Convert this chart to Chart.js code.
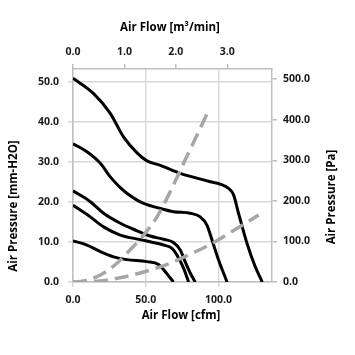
<!DOCTYPE html>
<html><head><meta charset="utf-8">
<script src="https://cdn.jsdelivr.net/npm/chart.js@4/dist/chart.umd.min.js"></script>
<style>html,body{margin:0;padding:0;background:#fff}#wrap{width:355px;height:355px;position:relative}</style>
</head><body><div id="wrap"><canvas id="c"></canvas></div>
<script>
// Fan performance curves (x: cfm, y: mm-H2O)
const fan1Flow = [0, 14, 25.6, 34.7, 44, 50.8, 60, 73.7, 87, 94.3, 101, 107, 110.3, 113.7, 119.5, 125, 130];
const fan1Pres = [51, 47.2, 42.2, 36.3, 32.3, 30.3, 29.2, 27.2, 25.8, 25.1, 24.5, 23.4, 21.8, 17.2, 9.7, 4, 0];
const fan2Flow = [0, 9.6, 18.8, 25.6, 32.5, 37, 44, 48.5, 60, 69, 80.6, 87.4, 92, 95.5, 100, 105.8];
const fan2Pres = [34.6, 32.6, 29.7, 26.3, 23.6, 22.2, 20.5, 19.7, 18.4, 17.6, 17.2, 16.3, 14.25, 10.5, 5.5, 0];
const fan3Flow = [0, 11.9, 21, 32.5, 41.6, 53, 62.2, 69, 73.7, 77, 80.6, 84];
const fan3Pres = [22.8, 20.1, 17.2, 14.7, 13.2, 11.5, 10.7, 9.9, 8, 5.1, 2.2, 0];
const fan4Flow = [0, 11.9, 21, 32.5, 46.2, 55, 62.2, 68, 71.4, 76, 79.4];
const fan4Pres = [19.2, 16.3, 13.8, 11.75, 10.6, 9.9, 9.25, 8.4, 6.75, 3.4, 0];
const fan5Flow = [0, 9.6, 18.8, 27.9, 37, 50.8, 58.8, 62, 65.5, 69];
const fan5Pres = [10.3, 9.25, 7.6, 6.3, 5.6, 5.1, 4.4, 3.2, 1.6, 0];
// System impedance curves
const sysAFlow = [0, 5, 18.8, 30.2, 37, 48.5, 57.7, 66.8, 77, 86.3, 93.8];
const sysAPres = [0, 0.1, 1.75, 4.7, 7.2, 11.75, 16.3, 22.6, 30.5, 37.6, 43.4];
const sysBFlow = [0, 14, 30, 48.5, 66.8, 78.3, 94.3, 112.6, 127.5];
const sysBPres = [0, 0.1, 0.9, 2.5, 4.7, 6.6, 9.4, 13.4, 16.75];
// Tick values
const cfmTicks = [0, 50, 100];
const m3Ticks = [0, 1, 2, 3];
const mmTicks = [0, 10, 20, 30, 40, 50];
const paTicks = [0, 100, 200, 300, 400, 500];

const pts = (xs, ys) => xs.map((x, i) => ({x: x, y: ys[i]}));
const BLACK = '#000000', GRAY = '#a6a6a6';
const fanDS = (xs, ys) => ({data: pts(xs, ys), borderColor: BLACK, borderWidth: 3, showLine: true, pointRadius: 0, cubicInterpolationMode: 'monotone', xAxisID: 'x', yAxisID: 'y'});
const sysDS = (xs, ys) => ({data: pts(xs, ys), borderColor: GRAY, borderWidth: 3.5, borderDash: [14, 7], showLine: true, pointRadius: 0, cubicInterpolationMode: 'monotone', xAxisID: 'x', yAxisID: 'y'});

const FAM = "'Open Sans', 'Noto Sans', sans-serif";
const tickFont = {family: FAM, weight: 'bold', size: 10.5};
const tickColor = '#1a1a1a';
const gridCol = '#d9d9d9', axisCol = '#bfbfbf';
const fmt = v => Number(v).toFixed(1);
const setTicks = arr => (s => { s.ticks = arr.map(v => ({value: v})); });

const titlePlugin = {
  id: 'titles',
  afterDraw(chart) {
    const ctx = chart.ctx;
    const font = 'bold 11.5px ' + FAM;
    ctx.save();
    ctx.fillStyle = '#000';
    ctx.font = font;
    ctx.textAlign = 'center';
    ctx.textBaseline = 'middle';
    ctx.fillText('Air Flow [m\u00B3/min]', 170, 28);
    ctx.fillText('Air Flow [cfm]', 181, 316);
    ctx.translate(14, 206); ctx.rotate(-Math.PI / 2);
    ctx.fillText('Air Pressure [mm-H2O]', 0, 0);
    ctx.restore();
    ctx.save();
    ctx.fillStyle = '#000';
    ctx.font = font;
    ctx.textAlign = 'center';
    ctx.textBaseline = 'middle';
    ctx.translate(332, 197); ctx.rotate(-Math.PI / 2);
    ctx.fillText('Air Pressure [Pa]', 0, 0);
    ctx.restore();
  }
};

new Chart(document.getElementById('c'), {
  type: 'scatter',
  data: {datasets: [
    sysDS(sysAFlow, sysAPres), sysDS(sysBFlow, sysBPres),
    fanDS(fan1Flow, fan1Pres), fanDS(fan2Flow, fan2Pres), fanDS(fan3Flow, fan3Pres),
    fanDS(fan4Flow, fan4Pres), fanDS(fan5Flow, fan5Pres)
  ]},
  options: {
    responsive: true, maintainAspectRatio: false, animation: false,
    layout: {padding: 0},
    plugins: {legend: {display: false}, tooltip: {enabled: false}},
    scales: {
      x: {type: 'linear', position: 'bottom', min: 0, max: 136.7,
        afterBuildTicks: setTicks(cfmTicks), afterFit: s => { s.height = 73; },
        ticks: {callback: fmt, font: tickFont, color: tickColor, padding: 7, maxRotation: 0},
        grid: {color: gridCol, lineWidth: 1.5, tickLength: 5},
        border: {color: axisCol, width: 1.5}},
      x2: {type: 'linear', position: 'top', min: 0, max: 3.87,
        afterBuildTicks: setTicks(m3Ticks), afterFit: s => { s.height = 69; },
        ticks: {callback: fmt, font: tickFont, color: tickColor, padding: 6, maxRotation: 0},
        grid: {drawOnChartArea: false, color: axisCol, lineWidth: 1.5, tickLength: 5},
        border: {color: axisCol, width: 1.5}},
      y: {type: 'linear', position: 'left', min: 0, max: 53.3,
        afterBuildTicks: setTicks(mmTicks), afterFit: s => { s.width = 73; },
        ticks: {callback: fmt, font: tickFont, color: tickColor, padding: 9},
        grid: {color: gridCol, lineWidth: 1.5, tickLength: 5},
        border: {color: axisCol, width: 1.5}},
      y2: {type: 'linear', position: 'right', min: 0, max: 525,
        afterBuildTicks: setTicks(paTicks), afterFit: s => { s.width = 83; },
        ticks: {callback: fmt, font: tickFont, color: tickColor, padding: 6},
        grid: {drawOnChartArea: false, color: axisCol, lineWidth: 1.5, tickLength: 5},
        border: {color: axisCol, width: 1.5}}
    }
  },
  plugins: [titlePlugin]
});
</script></body></html>
